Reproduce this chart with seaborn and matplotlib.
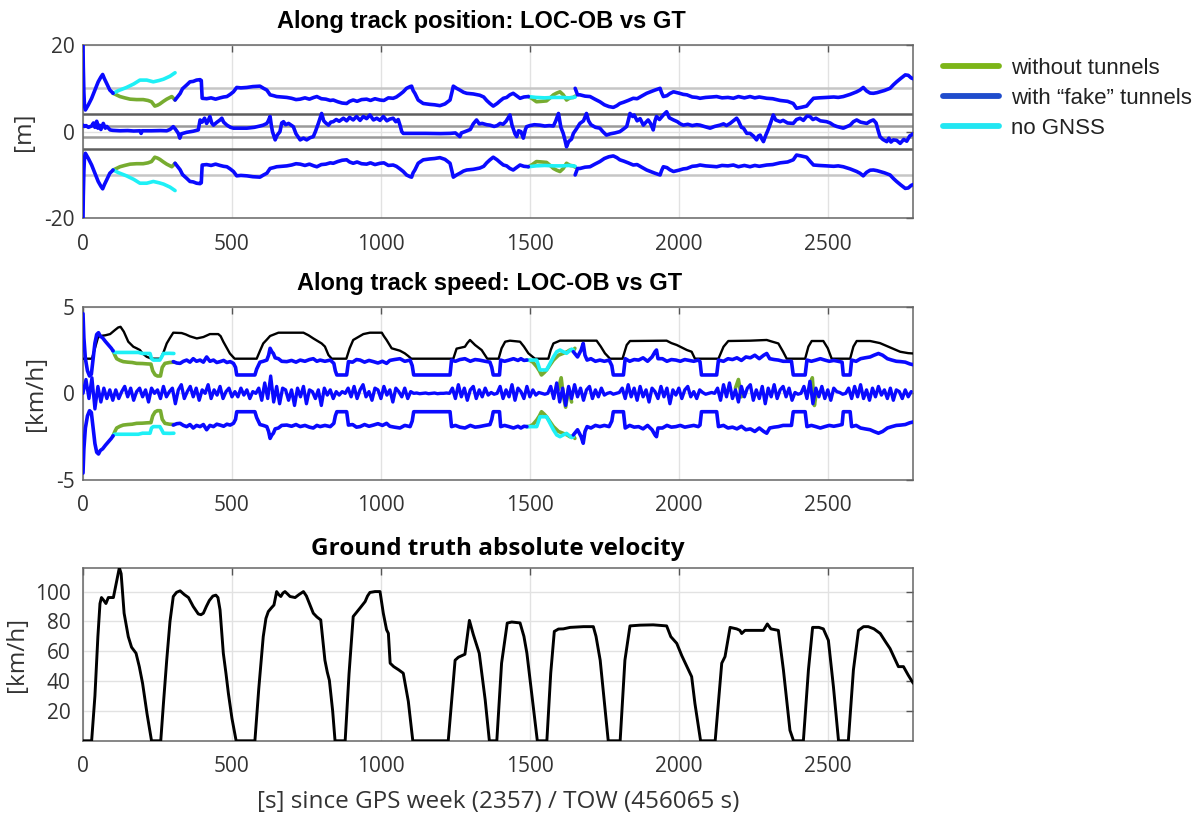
import numpy as np
import pandas as pd
import matplotlib
matplotlib.use("Agg")
import matplotlib.pyplot as plt
import seaborn as sns
from matplotlib.lines import Line2D

# ---------------- DATA ----------------
x_ticks = [0, 500, 1000, 1500, 2000, 2500]
x_max = 2787

legend_labels = ["without tunnels", "with \u201cfake\u201d tunnels", "no GNSS"]

# Position panel: upper sigma bound (lower bound is its mirror), segments split at gaps
pos_sig_blue = [
    [(0, 20), (1, 15), (3, 9), (5, 6.0), (8, 5.0), (18, 6.2), (29, 7.7), (40, 9.6), (51, 11.5), (60, 12.6),
     (66, 13.2), (72, 12.2), (79, 11.2), (90, 9.6), (99, 9.0), (101, 8.85)],
    [(309, 7.3), (317, 8.0), (326, 8.8), (334, 9.9), (342, 10.4), (350, 10.9), (359, 11.5), (370, 11.6),
     (381, 11.9), (393, 12.0), (397, 11.8), (400, 7.7), (415, 7.6), (430, 7.8), (445, 7.5), (460, 7.8),
     (472, 8.0), (483, 8.1), (494, 8.6), (505, 9.2), (516, 10.2), (530, 10.1), (550, 10.2), (570, 10.4),
     (594, 10.5), (606, 10.0), (617, 9.6), (628, 8.5), (640, 8.3), (650, 8.1), (667, 8.0), (684, 7.9),
     (700, 7.7), (715, 7.4), (729, 7.5), (745, 7.8), (760, 7.5), (775, 7.9), (785, 8.1), (800, 7.6),
     (815, 7.5), (830, 7.2), (840, 7.3), (855, 6.9), (870, 6.6), (885, 6.5), (895, 7.0), (907, 7.3),
     (920, 7.0), (935, 7.4), (952, 7.5), (965, 7.2), (980, 7.6), (997, 7.3), (1010, 7.2), (1025, 7.8),
     (1041, 7.7), (1052, 8.0), (1064, 8.6), (1075, 9.2), (1086, 10.0), (1098, 10.4), (1103, 10.5),
     (1108, 9.5), (1114, 8.85), (1125, 7.3), (1142, 6.5), (1164, 6.3), (1180, 6.2), (1198, 6.0),
     (1215, 6.4), (1232, 7.3), (1238, 9.0), (1243, 10.5), (1254, 10.0), (1265, 9.6), (1277, 9.1),
     (1288, 8.85), (1310, 8.7), (1332, 8.4), (1345, 8.0), (1355, 7.2), (1366, 6.5), (1377, 5.9),
     (1390, 6.5), (1400, 7.1), (1411, 7.7), (1422, 7.9), (1433, 8.5), (1444, 8.85), (1455, 8.3),
     (1467, 7.7), (1480, 8.0), (1495, 8.1)],
    [(1652, 10.0), (1660, 8.5), (1668, 8.5), (1685, 8.2), (1702, 8.1), (1718, 7.5), (1735, 6.9),
     (1750, 6.2), (1765, 5.8), (1780, 5.6), (1792, 6.0), (1802, 6.5), (1815, 6.8), (1830, 7.2),
     (1847, 7.7), (1860, 7.6), (1875, 8.2), (1892, 8.85), (1905, 9.2), (1920, 9.6), (1937, 10.0),
     (1942, 9.0), (1948, 8.1), (1960, 8.3), (1970, 8.8), (1982, 9.2), (2000, 8.9), (2015, 8.6),
     (2027, 8.5), (2045, 8.0), (2060, 7.9), (2071, 7.7), (2090, 7.9), (2110, 8.0), (2127, 8.1),
     (2145, 7.8), (2165, 7.9), (2183, 7.7), (2200, 8.1), (2220, 7.8), (2239, 8.1), (2255, 7.8),
     (2270, 8.0), (2295, 7.7), (2315, 7.6), (2340, 7.2), (2365, 7.0), (2384, 6.5), (2395, 5.4),
     (2410, 5.6), (2429, 5.9), (2440, 6.8), (2452, 7.7), (2470, 7.8), (2496, 7.9), (2520, 8.0),
     (2535, 7.9), (2552, 8.1), (2575, 8.6), (2597, 9.2), (2608, 9.6), (2619, 10.2), (2630, 9.4),
     (2642, 8.9), (2653, 8.85), (2665, 9.0), (2675, 9.2), (2690, 9.5), (2709, 10.0), (2720, 10.8),
     (2731, 11.5), (2745, 12.3), (2760, 13.1), (2770, 13.0), (2780, 12.4), (2787, 12.2)],
]
pos_sig_green = [
    [(101, 8.85), (112, 8.5), (124, 8.1), (140, 7.8), (158, 7.5), (180, 7.4), (202, 7.4), (218, 7.2),
     (230, 6.9), (241, 5.9), (250, 6.1), (258, 6.4), (270, 7.0), (281, 7.5), (298, 8.1), (305, 7.6), (309, 7.3)],
    [(1495, 8.1), (1508, 7.6), (1522, 6.9), (1540, 7.0), (1556, 7.1), (1568, 7.8), (1579, 8.5),
     (1590, 8.9), (1601, 9.2), (1612, 8.5), (1623, 7.3), (1635, 7.8), (1646, 7.9), (1652, 8.2)],
]
pos_sig_cyan = [
    [(101, 8.85), (120, 9.5), (146, 10.2), (170, 11.0), (191, 11.9), (214, 11.9), (236, 11.5),
     (255, 11.8), (270, 12.1), (292, 12.8), (309, 13.6)],
    [(1495, 8.1), (1520, 7.9), (1550, 7.8), (1580, 7.9), (1610, 7.9), (1630, 7.8), (1646, 7.9), (1652, 8.0)],
]
# Position error (blue)
pos_err_blue = [
    (0, 1.5), (5, 1.2), (10, 1.4), (18, 1.0), (29, 1.3), (35, 2.0), (40, 1.0), (46, 2.4), (50, 0.8),
    (55, 1.5), (60, 0.5), (68, 1.9), (75, 0.8), (80, 1.2), (91, 0.4), (100, 0.3), (124, 0.2), (150, 0.25),
    (170, 0.15), (191, 0.2), (195, -0.4), (199, 0.2), (230, 0.2), (260, 0.25), (281, 0.2), (292, 0.5),
    (303, 1.15), (310, 0.6), (320, -0.4), (325, -1.5), (330, -0.5), (348, -0.15), (370, 0.1), (387, 0.4),
    (393, 2.7), (400, 2.2), (408, 3.1), (415, 1.9), (420, 2.5), (426, 3.5), (432, 2.0), (438, 1.5),
    (450, 2.2), (460, 2.7), (466, 3.1), (472, 2.2), (483, 1.5), (495, 1.0), (505, 0.8), (530, 0.8),
    (550, 0.8), (575, 1.0), (594, 1.3), (605, 1.5), (617, 1.9), (622, 2.5), (628, 3.5), (632, 1.5),
    (636, 0.0), (645, -1.9), (652, -0.8), (661, 0.0), (667, 2.0), (673, 2.3), (680, 1.6), (690, 1.9),
    (706, 1.15), (715, -0.5), (729, -1.9), (740, -1.5), (751, -1.9), (762, -1.4), (773, -1.15), (780, 0.0),
    (790, 1.9), (801, 4.2), (808, 2.5), (815, 2.0), (824, 1.5), (832, 2.2), (840, 2.3), (850, 2.8),
    (860, 2.4), (874, 3.1), (885, 2.5), (895, 3.3), (907, 2.7), (918, 3.5), (930, 2.6), (941, 3.5),
    (952, 3.0), (963, 3.85), (975, 2.7), (986, 3.1), (997, 2.6), (1008, 3.5), (1020, 2.5), (1030, 2.9),
    (1041, 3.1), (1050, 2.3), (1058, 2.8), (1064, 1.5), (1070, 0.0), (1075, -0.4), (1100, -0.4),
    (1150, -0.4), (1200, -0.45), (1232, -0.4), (1250, -0.3), (1265, -1.15), (1270, -0.3), (1282, 0.0),
    (1300, 0.5), (1310, 1.8), (1321, 2.7), (1330, 1.8), (1340, 1.9), (1355, 1.6), (1366, 1.5), (1380, 1.2),
    (1390, 1.4), (1400, 1.9), (1410, 1.7), (1420, 2.4), (1433, 3.85), (1440, 1.5), (1450, -0.5),
    (1456, -1.15), (1462, 0.2), (1470, 0.0), (1478, -1.5), (1485, 0.5), (1489, 1.15), (1500, 1.4),
    (1515, 1.6), (1534, 1.5), (1550, 1.3), (1565, 1.4), (1579, 1.3), (1587, 2.5), (1596, 4.2), (1604, 1.0),
    (1612, -0.4), (1618, -2.0), (1623, -3.5), (1630, -2.3), (1640, -1.7), (1646, -0.4), (1655, 0.5),
    (1668, 1.9), (1680, 2.5), (1690, 4.2), (1697, 2.5), (1705, 1.6), (1720, 1.0), (1735, 0.8), (1745, 0.0),
    (1757, -0.8), (1770, -0.5), (1785, -0.3), (1802, 0.0), (1814, 0.6), (1825, 1.2), (1830, 2.5),
    (1836, 4.2), (1845, 3.5), (1850, 3.85), (1860, 2.5), (1870, 3.0), (1881, 1.5), (1890, 2.2), (1897, 2.7),
    (1905, 1.9), (1914, 0.4), (1920, 2.5), (1925, 3.5), (1935, 2.8), (1948, 3.85), (1959, 4.6), (1968, 3.2),
    (1982, 2.7), (1995, 2.3), (2005, 1.8), (2015, 1.5), (2030, 1.7), (2045, 1.4), (2060, 1.6), (2071, 1.5),
    (2085, 1.2), (2105, 0.8), (2120, 1.2), (2138, 1.5), (2150, 1.8), (2160, 1.4), (2172, 1.9), (2185, 2.6),
    (2194, 3.1), (2200, 2.5), (2210, 1.0), (2217, 0.8), (2228, -0.4), (2239, -0.4), (2250, -1.0),
    (2261, -1.9), (2267, -1.0), (2273, -0.8), (2278, -1.6), (2284, -2.3), (2292, -0.8), (2300, 0.5),
    (2308, 2.0), (2317, 3.85), (2325, 2.7), (2340, 2.3), (2350, 2.6), (2365, 2.0), (2384, 1.9), (2395, 2.8),
    (2407, 3.1), (2418, 2.6), (2430, 3.6), (2440, 3.5), (2450, 2.8), (2460, 3.1), (2475, 2.5), (2496, 2.3),
    (2508, 2.0), (2519, 1.5), (2530, 1.2), (2552, 0.8), (2565, 1.2), (2575, 1.5), (2586, 2.3), (2597, 2.7),
    (2610, 2.2), (2631, 1.9), (2642, 2.4), (2653, 2.7), (2662, 2.0), (2668, 0.5), (2675, -1.15),
    (2685, -1.8), (2698, -2.3), (2705, -1.5), (2712, -2.4), (2720, -1.9), (2731, -2.0), (2743, -2.7),
    (2755, -1.8), (2765, -2.2), (2775, -1.0), (2780, -0.8), (2787, -0.5),
]
pos_ref_levels = [10, 4, 1.2]
pos_ref_colors = ["#c6c6c6", "#5e5e5e", "#9a9a9a"]

# Speed panel: upper sigma bound (lower is mirror)
spd_sig_blue = [
    [(0, 4.6), (3, 3.2), (8, 2.0), (15, 1.3), (22, 1.0), (28, 1.1), (34, 2.0), (40, 2.9), (46, 3.4),
     (52, 3.5), (58, 3.3), (66, 3.2), (75, 3.0), (85, 2.8), (95, 2.6), (101, 2.45)],
    [(303, 1.83), (315, 1.75), (326, 1.73), (337, 1.85), (348, 1.92), (359, 1.8), (370, 2.0), (381, 1.85),
     (393, 1.92), (404, 1.8), (415, 2.1), (426, 1.85), (438, 1.92), (449, 1.78), (460, 1.83), (472, 1.9),
     (483, 1.78), (494, 1.83), (505, 1.73), (512, 1.5), (516, 1.06), (577, 1.06), (583, 1.4), (594, 1.8),
     (605, 1.85), (617, 1.92), (623, 2.2), (628, 2.6), (634, 2.4), (639, 2.3), (645, 2.05), (656, 2.0),
     (667, 1.85), (684, 1.83), (700, 1.9), (715, 1.8), (729, 1.92), (745, 1.85), (760, 1.95), (773, 2.0),
     (785, 1.85), (796, 1.92), (812, 1.85), (830, 1.92), (842, 1.73), (847, 1.3), (852, 1.06), (885, 1.06),
     (891, 1.83), (905, 1.8), (918, 1.95), (930, 1.92), (945, 1.8), (960, 1.9), (975, 1.83), (990, 1.75),
     (1005, 1.85), (1019, 1.73), (1030, 1.9), (1045, 1.95), (1064, 2.0), (1080, 1.85), (1098, 1.92),
     (1105, 1.6), (1110, 1.06), (1232, 1.06), (1237, 1.92), (1250, 1.85), (1265, 1.95), (1282, 2.0),
     (1300, 1.85), (1316, 1.95), (1330, 1.92), (1350, 1.85), (1366, 1.8), (1372, 1.5), (1377, 1.06),
     (1398, 1.06), (1402, 1.92), (1415, 1.85), (1430, 1.92), (1445, 2.0), (1460, 1.9), (1470, 2.0),
     (1480, 1.9), (1490, 1.92)],
    [(1646, 2.4), (1660, 2.1), (1672, 2.5), (1679, 2.88), (1685, 2.2), (1692, 1.92), (1705, 2.0),
     (1720, 1.85), (1735, 1.92), (1750, 1.85), (1766, 1.92), (1775, 1.6), (1780, 1.06), (1814, 1.06),
     (1820, 2.0), (1835, 1.85), (1850, 1.95), (1865, 1.92), (1880, 2.05), (1895, 1.85), (1910, 2.1),
     (1920, 2.4), (1925, 2.5), (1930, 2.0), (1945, 2.0), (1960, 1.85), (1975, 1.95), (1990, 1.92),
     (2005, 1.85), (2020, 1.95), (2035, 1.9), (2050, 1.85), (2065, 1.92), (2071, 1.83), (2076, 1.06),
     (2127, 1.06), (2133, 1.92), (2150, 1.85), (2165, 2.0), (2180, 1.95), (2195, 2.05), (2210, 1.9),
     (2225, 2.1), (2240, 2.05), (2255, 2.2), (2270, 2.0), (2285, 2.2), (2295, 2.3), (2305, 2.0),
     (2320, 1.95), (2334, 1.92), (2350, 1.85), (2378, 1.85), (2384, 1.06), (2424, 1.06), (2430, 1.92),
     (2445, 1.85), (2460, 1.92), (2475, 2.0), (2490, 1.92), (2505, 1.85), (2520, 1.9), (2535, 1.85),
     (2548, 1.8), (2552, 1.06), (2575, 1.06), (2580, 1.92), (2595, 1.85), (2610, 2.0), (2625, 2.05),
     (2642, 2.1), (2655, 2.2), (2670, 2.3), (2684, 2.2), (2700, 2.0), (2715, 1.92), (2730, 1.85),
     (2745, 1.83), (2760, 1.8), (2775, 1.7), (2787, 1.65)],
]
spd_sig_green = [
    [(101, 2.45), (107, 2.2), (113, 2.0), (124, 1.9), (135, 1.83), (150, 1.8), (165, 1.78), (180, 1.73),
     (200, 1.72), (215, 1.7), (228, 1.69), (234, 1.3), (242, 1.07), (250, 1.0), (260, 1.0), (266, 1.5),
     (275, 1.73), (290, 1.78), (305, 1.8)],
    [(1490, 1.92), (1500, 1.9), (1510, 1.8), (1523, 1.54), (1532, 1.3), (1539, 1.06), (1548, 1.2),
     (1556, 1.35), (1566, 1.6), (1579, 1.92), (1596, 2.2), (1612, 2.31), (1625, 2.4), (1634, 2.5),
     (1646, 2.45), (1651, 2.6)],
]
spd_sig_cyan = [
    [(101, 2.45), (106, 2.36), (150, 2.36), (186, 2.36), (200, 2.3), (225, 2.3), (230, 2.0), (236, 1.92),
     (258, 1.92), (264, 2.1), (270, 2.3), (290, 2.31), (305, 2.3)],
    [(1490, 1.92), (1523, 1.92), (1534, 1.35), (1556, 1.35), (1579, 2.1), (1590, 2.4), (1601, 2.5),
     (1612, 2.4), (1623, 2.31), (1640, 2.55), (1646, 2.5)],
]
# Speed threshold (black)
spd_limit = [
    (0, 2.0), (30, 2.0), (40, 2.6), (50, 3.2), (57, 3.31), (75, 3.35), (91, 3.42), (107, 3.65), (118, 3.8),
    (126, 3.84), (137, 3.56), (152, 2.98), (169, 2.69), (180, 2.6), (191, 2.5), (200, 2.3), (214, 2.11),
    (230, 2.0), (261, 2.0), (271, 2.4), (281, 2.88), (292, 3.2), (303, 3.5), (331, 3.48), (345, 3.4),
    (359, 3.29), (382, 3.17), (404, 3.25), (426, 3.42), (454, 3.42), (462, 3.3), (471, 2.98), (493, 2.3),
    (509, 2.0), (583, 2.0), (594, 2.45), (605, 2.88), (617, 3.1), (628, 3.31), (656, 3.5), (740, 3.5),
    (757, 3.35), (773, 3.17), (801, 2.88), (812, 2.7), (824, 2.21), (835, 2.0), (884, 2.0), (895, 2.6),
    (907, 3.08), (941, 3.42), (963, 3.5), (1003, 3.5), (1010, 3.3), (1019, 3.08), (1036, 2.6), (1064, 2.46),
    (1080, 2.31), (1092, 2.15), (1102, 2.0), (1243, 2.0), (1254, 2.58), (1282, 2.69), (1290, 2.9),
    (1299, 3.08), (1316, 2.79), (1338, 2.5), (1357, 2.0), (1395, 2.0), (1405, 2.6), (1417, 2.98),
    (1433, 3.04), (1467, 2.98), (1480, 2.7), (1495, 2.31), (1517, 2.0), (1562, 2.0), (1570, 2.5),
    (1579, 2.88), (1601, 3.04), (1724, 3.04), (1738, 2.7), (1752, 2.31), (1769, 2.0), (1811, 2.0),
    (1825, 2.79), (1836, 3.02), (1959, 3.04), (1975, 2.9), (1993, 2.79), (2027, 2.5), (2043, 2.4),
    (2054, 2.0), (2133, 2.0), (2150, 2.69), (2166, 3.02), (2240, 3.04), (2295, 3.08), (2310, 3.0),
    (2334, 2.88), (2350, 2.4), (2362, 2.0), (2424, 2.0), (2435, 2.7), (2446, 3.02), (2485, 3.02),
    (2500, 2.6), (2513, 2.0), (2575, 2.0), (2586, 2.7), (2597, 3.02), (2642, 3.02), (2675, 2.9),
    (2709, 2.65), (2743, 2.4), (2770, 2.32), (2787, 2.3),
]
# Speed error (blue), one value every 10 s from t = 0
spd_err_step = 10
spd_err_blue = [
    0.0, 0.8, -0.3, 0.9, -0.9, 0.4, -0.5, 0.3, -0.3, 0.2, -0.4,
    0.2, -0.3, 0.1, 0.4, -0.2, 0.3, -0.4, 0.1, 0.3, -0.2, 0.2, -0.5, 0.3, 0.0, 0.2, -0.3, 0.4, -0.2, 0.1, 0.3,
    -0.6, 0.2, 0.5, -0.3, 0.1, 0.4, -0.2, 0.3, -0.4, 0.2, 0.0, 0.5, -0.3, 0.2, -0.1, 0.4, -0.3, 0.1, 0.3, -0.2,
    0.1, -0.2, 0.3, -0.1, 0.2, -0.3, 0.1, 0.0,
    0.3, -0.4, 0.6, -0.3, 1.0, -0.5, 0.4, -0.6, 0.3, 0.2, -0.4, 0.2,
    -0.7, 0.3, -0.2, 0.4, -0.6, 0.2, 0.1, -0.3, 0.2, -0.7, 0.3, -0.1, 0.2, -0.3,
    0.1, -0.1, 0.1, 0.0,
    0.3, -0.2, 0.4, -0.3, 0.2, 0.5, -0.2, 0.1, -0.4, 0.3, 0.2, -0.3, 0.4, -0.1, 0.2, -0.5, 0.3, 0.1, -0.2, 0.3,
    -0.3, 0.1,
    0.0, 0.02, -0.02, 0.0, 0.02, -0.02, 0.0, 0.02, -0.02, 0.0, 0.0, 0.02, 0.0,
    0.3, -0.3, 0.5, -0.2, 0.3, -0.4, 0.2, 0.4, -0.3, 0.2, -0.2, 0.3, -0.1,
    0.05, -0.05, 0.0,
    0.4, -0.3, 0.2, -0.2, 0.5, -0.4, 0.3, 0.1, -0.3, 0.4, -0.2, 0.2, -0.1,
    0.05, 0.0, -0.05, 0.0,
    0.4, -0.3, 0.6, -0.5, 0.3, -0.7, 0.4, -0.3, 0.5, -0.2, 0.3, -0.4, 0.2, 0.4, -0.3, 0.2, -0.2, 0.3, -0.1, 0.0,
    0.05, -0.05, 0.0, 0.05,
    0.3, -0.3, 0.5, -0.2, 0.3, -0.4, 0.4, -0.2, 0.2, -0.5, 0.3, 0.1, -0.3, 0.4, -0.2, 0.3, -0.6, 0.2, -0.1, 0.3,
    -0.3, 0.2, 0.4, -0.2, 0.1, -0.3, 0.2,
    0.05, -0.05, 0.0, 0.05, 0.0,
    0.3, -0.4, 0.5, -0.2, 0.6, -0.3, 0.2, -0.5, 0.4, -0.2, 0.3, 0.5, -0.4, 0.2, -0.3, 0.4, -0.6, 0.3, -0.2, 0.5,
    -0.3, 0.2, 0.4, -0.2, 0.3, -0.4,
    0.05, -0.05, 0.0,
    0.4, -0.3, 0.7, -0.6, 0.3, -0.2, 0.4, -0.3, 0.2, -0.4, 0.3, 0.1,
    0.05, -0.05, 0.0,
    0.3, -0.3, 0.4, -0.2, 0.5, -0.3, 0.2, -0.4, 0.3, -0.2, 0.4, -0.1, 0.2, -0.3, 0.3, -0.4, 0.2, 0.1, -0.3, 0.2,
    -0.2, 0.1,
]
spd_err_green = [
    [(1595, 0.2), (1605, 0.9), (1612, -0.1), (1620, -0.8), (1630, 0.3), (1640, -0.5)],
    [(2190, 0.3), (2200, 0.8), (2210, -0.2)],
    [(2440, 0.2), (2448, 0.9), (2455, -0.7), (2462, 0.1)],
]

# Ground truth absolute velocity [km/h]
gt_vel = [
    (0, 0), (29, 0), (40, 30), (50, 70), (57, 92), (62, 96), (70, 94), (77, 92), (85, 96), (95, 96), (102, 96),
    (110, 104), (122, 116), (128, 112), (138, 85.5), (152, 69.8), (163, 62.7), (178, 58.7), (189, 49.7),
    (200, 38.5), (215, 18), (230, 0), (261, 0), (270, 25), (281, 54), (292, 80), (303, 96.7), (314, 99.5),
    (326, 100.5), (340, 98), (354, 96), (370, 90), (387, 85), (396, 84.5), (404, 85.5), (414, 90), (424, 94),
    (436, 97), (446, 97.6), (453, 96), (460, 87.7), (471, 58.7), (480, 45), (488, 31.8), (500, 15), (514, 0),
    (577, 0), (590, 35), (605, 69.8), (614, 82), (622, 86.6), (632, 89), (641, 91), (650, 100), (657, 98),
    (664, 96.7), (671, 99), (678, 100), (686, 98.5), (695, 96.7), (712, 96), (725, 98), (740, 100), (750, 97),
    (760, 92), (773, 85.5), (785, 83), (798, 81), (812, 54), (820, 46), (827, 40.5), (838, 20), (846, 0),
    (880, 0), (893, 45), (907, 83.3), (918, 86), (930, 89), (947, 93.3), (955, 97), (963, 99.4), (980, 100),
    (997, 100), (1008, 85.5), (1019, 74.4), (1025, 72), (1031, 52), (1043, 49.7), (1060, 47.5), (1075, 45.3),
    (1092, 26.4), (1107, 0), (1226, 0), (1249, 54), (1260, 56), (1282, 58), (1297, 80.7), (1310, 71.3),
    (1330, 58.7), (1350, 27.4), (1364, 0), (1389, 0), (1405, 52), (1424, 78.9), (1439, 79.6), (1467, 79),
    (1480, 70), (1490, 58.7), (1506, 31.8), (1525, 0), (1557, 0), (1570, 45.3), (1582, 73.3), (1596, 74.9),
    (1612, 75), (1635, 76), (1680, 76.5), (1713, 76.5), (1722, 70), (1736, 54), (1763, 0), (1803, 0),
    (1819, 54), (1836, 77), (1870, 77.5), (1914, 77.7), (1959, 77), (1973, 69.8), (1993, 65.3), (2010, 57),
    (2027, 49.7), (2043, 43), (2054, 25), (2073, 0), (2122, 0), (2144, 52), (2155, 56.4), (2172, 76),
    (2194, 75), (2205, 74), (2211, 71.9), (2222, 74), (2250, 74), (2284, 74), (2297, 78.3), (2309, 75),
    (2334, 74), (2351, 47.5), (2373, 7), (2385, 0), (2418, 0), (2435, 47.5), (2449, 76), (2470, 76),
    (2485, 75), (2502, 67.3), (2519, 36), (2536, 0), (2569, 0), (2586, 47.5), (2603, 74), (2620, 76.5),
    (2636, 76.5), (2655, 75), (2676, 71.9), (2695, 66), (2709, 61.8), (2737, 49.7), (2754, 49.7), (2770, 44),
    (2787, 38.5),
]

# ---------------- STYLE ----------------
sns.set_theme(style="white")
plt.rcParams['font.family'] = ['Open Sans', 'DejaVu Sans']
plt.rcParams['axes.unicode_minus'] = False

C_GREEN = "#77AC30"
C_BLUE = "#0a0aff"
C_CYAN = "#1ef0f6"
LEG_COLORS = ["#7cb518", "#1f4ccc", "#22e6f2"]
TXT = "#333333"
LW = 2.6

fig = plt.figure(figsize=(11.97, 8.14), dpi=100)
W, H = 1197.0, 814.0


def axes_px(left, top, right, bottom):
    return fig.add_axes([left / W, 1 - bottom / H, (right - left) / W, (bottom - top) / H])


ax1 = axes_px(83, 45, 913.3, 218.3)
ax2 = axes_px(83, 306.7, 913.3, 480)
ax3 = axes_px(83, 567.7, 913.3, 740.8)


def draw(ax, pts, color, lw=LW, sign=1.0, z=3):
    a = np.asarray(pts, dtype=float)
    df = pd.DataFrame({"t": a[:, 0], "v": sign * a[:, 1]})
    sns.lineplot(data=df, x="t", y="v", color=color, linewidth=lw, sort=False,
                 estimator=None, ax=ax, legend=False, zorder=z, solid_capstyle="round",
                 solid_joinstyle="round")


# --- panel 1: position
for lev, col in zip(pos_ref_levels, pos_ref_colors):
    for s in (1, -1):
        ax1.axhline(s * lev, color=col, lw=1.8, zorder=1.5)
for sgn in (1, -1):
    for seg in pos_sig_green:
        draw(ax1, seg, C_GREEN, sign=sgn, z=3)
    for seg in pos_sig_cyan:
        draw(ax1, seg, C_CYAN, sign=sgn, z=3.2)
    for seg in pos_sig_blue:
        draw(ax1, seg, C_BLUE, sign=sgn, z=3.5)
draw(ax1, pos_err_blue, C_BLUE, z=3.5)

# --- panel 2: speed
draw(ax2, spd_limit, "black", lw=1.7, z=3.0)
for sgn in (1, -1):
    for seg in spd_sig_green:
        draw(ax2, seg, C_GREEN, sign=sgn, z=3.1)
    for seg in spd_sig_cyan:
        draw(ax2, seg, C_CYAN, sign=sgn, z=3.2)
    for seg in spd_sig_blue:
        draw(ax2, seg, C_BLUE, sign=sgn, z=3.5)
for seg in spd_err_green:
    draw(ax2, seg, C_GREEN, z=3.1)
err_t = np.arange(len(spd_err_blue)) * spd_err_step
draw(ax2, list(zip(err_t, spd_err_blue)), C_BLUE, lw=2.4, z=3.5)

# --- panel 3: GT velocity
draw(ax3, gt_vel, "black", lw=2.1, z=3)

# --- axes cosmetics
for ax, ylim, yt in [(ax1, (-20, 20), [-20, 0, 20]),
                     (ax2, (-5, 5), [-5, 0, 5]),
                     (ax3, (0, 116), [20, 40, 60, 80, 100])]:
    ax.set_xlim(0, x_max)
    ax.set_ylim(*ylim)
    ax.set_xticks(x_ticks)
    ax.set_xticklabels([str(v) for v in x_ticks])
    ax.set_yticks(yt)
    ax.set_yticklabels([str(v) for v in yt])
    ax.grid(True, color="#e2e2e2", lw=1.0, zorder=0)
    ax.set_axisbelow(True)
    ax.tick_params(direction="in", top=True, right=True, length=5, width=1,
                   color="#555555", labelcolor=TXT, labelsize=15, pad=6)
    ax.tick_params(axis="x", pad=11)
    for sp in ax.spines.values():
        sp.set_color("#666666")
        sp.set_linewidth(1.1)
    ax.set_xlabel("")
ax3.tick_params(axis="y", pad=9)

ax1.set_ylabel("[m]", fontsize=17.5, color=TXT, labelpad=6)
ax2.set_ylabel("[km/h]", fontsize=17.5, color=TXT, labelpad=6)
ax3.set_ylabel("[km/h]", fontsize=17.5, color=TXT, labelpad=4)
ax3.set_xlabel("[s] since GPS week (2357) / TOW (456065 s)", fontsize=17.5, color=TXT, labelpad=9)

title_font = dict(family=["Liberation Sans", "DejaVu Sans"], weight="bold", size=17)
ax1.set_title("Along track position: LOC-OB vs GT", pad=12, color="black", x=0.48, **title_font)
ax2.set_title("Along track speed: LOC-OB vs GT", pad=12, color="black", x=0.49, **title_font)
ax3.set_title("Ground truth absolute velocity", pad=9, color="black",
              family=["Open Sans", "DejaVu Sans"], weight="bold", size=17.5)

handles = [Line2D([0], [0], color=c, lw=4.2) for c in LEG_COLORS]
fig.legend(handles, legend_labels, loc="upper left", bbox_to_anchor=(943 / W, 1 - 58 / H),
           frameon=False, borderpad=0, borderaxespad=0, handlelength=2.5, handletextpad=0.55,
           labelspacing=0.4, prop=dict(family=["Liberation Sans", "DejaVu Sans"], size=16),
           labelcolor="#222222")

fig.savefig("out.png", dpi=100)
